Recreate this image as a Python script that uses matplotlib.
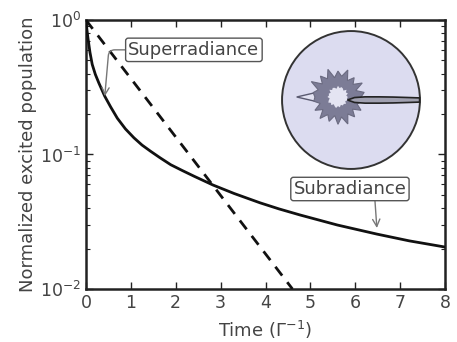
import numpy as np
import matplotlib
matplotlib.use("Agg")
import matplotlib.pyplot as plt
from matplotlib.patches import Circle, Polygon

# ---- main data ----
t_solid = [0, 0.02, 0.045, 0.09, 0.14, 0.21, 0.29, 0.42, 0.55, 0.70, 0.88, 1.07, 1.25,
           1.44, 1.65, 1.89, 2.15, 2.41, 2.83, 3.3, 3.88, 4.3, 4.77, 5.6, 6.48, 7.2, 8.0]
pop_solid = [1.0, 0.861, 0.735, 0.575, 0.468, 0.394, 0.339, 0.271, 0.226, 0.186, 0.155,
             0.133, 0.1175, 0.1057, 0.0946, 0.0839, 0.0759, 0.0689, 0.0593, 0.0513, 0.0437,
             0.0394, 0.0355, 0.0299, 0.0256, 0.0228, 0.0205]
t_dashed = [0.0, 4.6]
pop_dashed = [1.0, 0.01]

x_ticks = [0, 1, 2, 3, 4, 5, 6, 7, 8]
y_ticks = [1e-2, 1e-1, 1e0]
y_ticklabels = [r'$10^{-2}$', r'$10^{-1}$', r'$10^{0}$']

# ---- inset radiation pattern data ----
star_angles = [0, 10, 20, 30, 40, 50, 60, 70, 80, 90, 100, 110, 120, 130, 140, 150, 160, 170,
               180, 190, 200, 210, 220, 230, 240, 250, 260, 270, 280, 290, 300, 310, 320, 330, 340, 350]
star_outer = [0.33, 0.38, 0.27, 0.40, 0.28, 0.36, 0.27, 0.41, 0.30, 0.37, 0.28, 0.42, 0.30, 0.39,
              0.29, 0.44, 0.30, 0.36, 0.33, 0.35, 0.27, 0.38, 0.28, 0.40, 0.29, 0.37, 0.27, 0.39,
              0.29, 0.41, 0.28, 0.37, 0.27, 0.38, 0.29, 0.35]
star_inner = [0.14, 0.12, 0.15, 0.13, 0.16, 0.12, 0.14, 0.15, 0.13, 0.16, 0.12, 0.14, 0.15, 0.13,
              0.16, 0.12, 0.14, 0.13, 0.15, 0.12, 0.14, 0.16, 0.13, 0.15, 0.12, 0.14, 0.16, 0.13,
              0.15, 0.12, 0.14, 0.13, 0.15, 0.12, 0.14, 0.13]
left_lobe_angles = [160, 170, 180, 190, 200]
left_lobe_r = [0.22, 0.34, 0.59, 0.34, 0.22]
lobe_x = [-0.05, 0.05, 0.2, 0.4, 0.6, 0.8, 0.98]
lobe_halfwidth = [0.0, 0.035, 0.045, 0.045, 0.042, 0.036, 0.03]

fig = plt.figure(figsize=(4.57, 3.42), dpi=100)
ax = fig.add_axes([0.188, 0.155, 0.786, 0.7865])

ax.plot(t_solid, pop_solid, color='#111111', lw=2.0, zorder=3)
ax.plot(t_dashed, pop_dashed, color='#111111', lw=2.0, ls=(0, (4, 3)), zorder=3)

ax.set_yscale('log')
ax.set_xlim(0, 8)
ax.set_ylim(1e-2, 1e0)
ax.set_xticks(x_ticks)
ax.set_xticklabels([str(v) for v in x_ticks])
ax.set_yticks(y_ticks)
ax.set_yticklabels(y_ticklabels)
ax.tick_params(axis='both', which='both', direction='in', top=True, right=True,
               labelsize=12.5, colors='#222222', labelcolor='#444444')
ax.tick_params(which='major', length=5, width=1)
ax.tick_params(which='minor', length=3, width=0.8)
for sp in ax.spines.values():
    sp.set_linewidth(1.8)
    sp.set_color('#222222')

ax.set_xlabel(r'Time ($\Gamma^{-1}$)', fontsize=13, color='#444444', labelpad=5)
ax.set_ylabel('Normalized excited population', fontsize=13, color='#444444', labelpad=2)

box = dict(boxstyle='round,pad=0.15', fc='white', ec='#555555', lw=1.0)
ax.annotate('Superradiance', xy=(0.42, 0.271), xytext=(2.405, 0.6), textcoords='data',
            fontsize=13, color='#444444', ha='center', va='center', bbox=box,
            arrowprops=dict(arrowstyle='->', color='#777777', lw=1.0,
                            connectionstyle='angle,angleA=180,angleB=85,rad=6',
                            relpos=(0, 0.5), shrinkA=0, shrinkB=0))
ax.annotate('Subradiance', xy=(6.48, 0.0284), xytext=(5.88, 0.0554), textcoords='data',
            fontsize=13, color='#444444', ha='center', va='center', bbox=box,
            arrowprops=dict(arrowstyle='->', color='#777777', lw=1.0,
                            relpos=(0.72, 0), shrinkA=0, shrinkB=0))

# ---- inset ----
ins = fig.add_axes([(351 - 70) / 457, (342 - 100 - 70) / 342, 140 / 457, 140 / 342])
ins.set_xlim(-1, 1)
ins.set_ylim(-1, 1)
ins.axis('off')
ins.add_patch(Circle((0, 0), 0.985, fc='#dcdcf0', ec='#333333', lw=1.4))

cx, cy = -0.186, 0.043
la = np.deg2rad(left_lobe_angles)
left_pts = np.column_stack([cx + np.array(left_lobe_r) * np.cos(la),
                            cy + np.array(left_lobe_r) * np.sin(la)])
ins.add_patch(Polygon(left_pts, closed=True, fc='#e2e2f2', ec='#5a5a70', lw=1.0, zorder=2))

th = np.deg2rad(star_angles)
outer_pts = np.column_stack([cx + np.array(star_outer) * np.cos(th),
                             cy + np.array(star_outer) * np.sin(th)])
inner_pts = np.column_stack([cx + np.array(star_inner) * np.cos(th),
                             cy + np.array(star_inner) * np.sin(th)])
ins.add_patch(Polygon(outer_pts, closed=True, fc='#7c7c96', ec='#6a6a80', lw=0.8, zorder=3))
ins.add_patch(Polygon(inner_pts, closed=True, fc='#e4e4f2', ec='none', zorder=4))

lx = np.array(lobe_x)
lh = np.array(lobe_halfwidth)
lobe_pts = np.concatenate([np.column_stack([lx, lh]), np.column_stack([lx[::-1], -lh[::-1]])])
ins.add_patch(Polygon(lobe_pts, closed=True, fc='#a0a0b0', ec='#222222', lw=1.2, zorder=5))

fig.savefig('out.png', dpi=100)
